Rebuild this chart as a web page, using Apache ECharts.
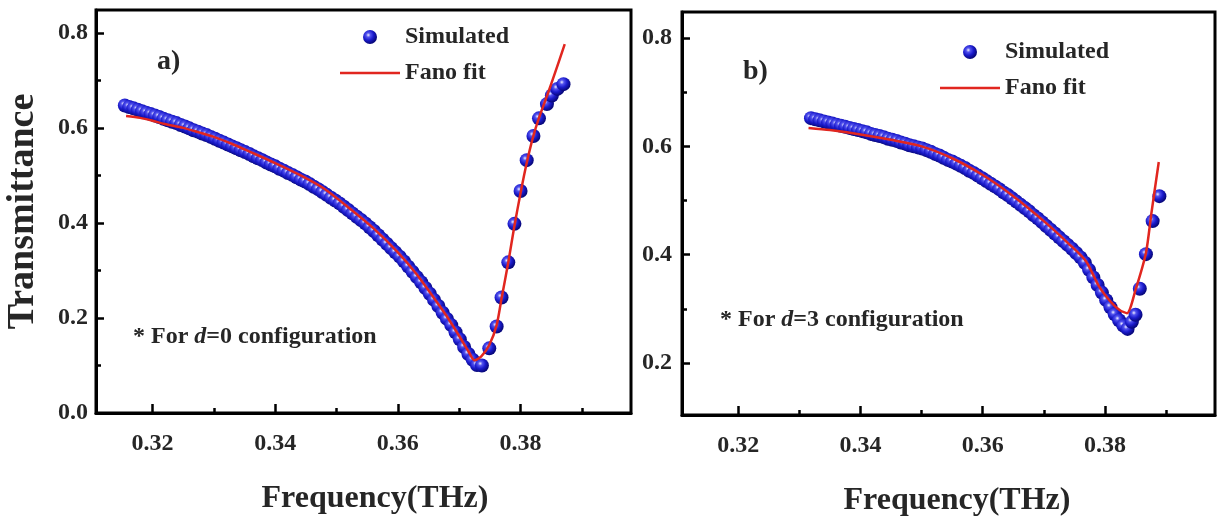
<!DOCTYPE html>
<html>
<head>
<meta charset="utf-8">
<script src="https://cdn.jsdelivr.net/npm/echarts@6/dist/echarts.min.js"></script>
<style>
  html, body { margin: 0; padding: 0; background: #fff; }
  #chart { width: 1229px; height: 525px; }
</style>
</head>
<body>
<div id="chart"></div>
<script>
// ---- Panel a): d = 0 configuration ----
const simFreqA = [0.3155,0.3162,0.3169,0.3176,0.3183,0.3190,0.3197,0.3204,0.3211,0.3218,0.3225,0.3232,0.3239,0.3246,
  0.3253,0.3260,0.3267,0.3274,0.3281,0.3288,0.3295,0.3302,0.3309,0.3316,0.3323,0.3330,0.3337,0.3344,
  0.3351,0.3358,0.3365,0.3372,0.3379,0.3386,0.3393,0.3400,0.3407,0.3414,0.3421,0.3428,0.3435,0.3442,0.3449,
  0.3456,0.3463,0.3470,0.3477,0.3484,0.3491,0.3498,0.3505,0.3512,0.3519,0.3526,0.3533,0.3540,0.3547,
  0.3554,0.3561,0.3568,0.3575,0.3582,0.3589,0.3596,0.3603,0.3610,0.3617,0.3624,0.3631,0.3638,0.3645,
  0.3652,0.3659,0.3666,0.3673,0.3680,0.3687,0.3694,0.3701,0.3708,0.3715,0.3722,0.3729,
  0.3737,0.3749,0.3761,0.3769,0.3780,0.3790,0.3800,0.3810,0.3821,0.3830,0.3843,0.3851,0.3860,0.3870];
const simTransA = [0.647,0.644,0.641,0.638,0.635,0.632,0.629,0.626,0.623,0.619,0.616,0.613,0.610,0.606,
  0.603,0.599,0.595,0.592,0.588,0.585,0.581,0.577,0.573,0.569,0.565,0.561,0.557,0.553,
  0.549,0.545,0.540,0.536,0.532,0.527,0.523,0.519,0.514,0.510,0.505,0.501,0.496,0.491,0.487,
  0.482,0.476,0.471,0.465,0.459,0.453,0.447,0.441,0.434,0.427,0.420,0.413,0.406,0.399,
  0.391,0.383,0.374,0.365,0.356,0.347,0.338,0.329,0.319,0.308,0.297,0.286,0.275,0.263,
  0.251,0.238,0.225,0.211,0.198,0.185,0.170,0.155,0.139,0.124,0.112,0.101,
  0.100,0.136,0.182,0.243,0.317,0.398,0.467,0.532,0.583,0.620,0.650,0.668,0.682,0.692];
const fitFreqA = [0.3157,0.318,0.320,0.322,0.325,0.3277,0.330,0.333,0.336,0.340,0.344,0.348,0.352,0.356,0.360,
  0.363,0.366,0.368,0.370,0.3715,0.3725,0.3736,0.3749,0.3761,0.3769,0.3780,0.3790,0.3800,0.3810,0.3820,
  0.3830,0.3843,0.3856,0.3872];
const fitTransA = [0.625,0.621,0.615,0.608,0.600,0.590,0.581,0.566,0.549,0.526,0.501,0.472,0.432,0.389,0.338,
  0.293,0.240,0.203,0.162,0.130,0.111,0.119,0.143,0.185,0.241,0.317,0.394,0.463,0.526,0.579,
  0.621,0.667,0.715,0.776];

// ---- Panel b): d = 3 configuration ----
const simFreqB = [0.3319,0.3326,0.3333,0.3340,0.3347,0.3354,0.3361,0.3368,0.3375,0.3382,0.3389,0.3396,
  0.3403,0.3410,0.3417,0.3424,0.3431,0.3438,0.3445,0.3452,0.3459,0.3466,0.3473,0.3480,0.3487,0.3494,
  0.3501,0.3508,0.3515,0.3522,0.3529,0.3536,0.3543,0.3550,0.3557,0.3564,0.3571,0.3578,0.3585,0.3592,
  0.3599,0.3606,0.3613,0.3620,0.3627,0.3634,0.3641,0.3648,0.3655,0.3662,0.3669,0.3676,0.3683,0.3690,0.3697,
  0.3704,0.3711,0.3718,0.3725,0.3732,0.3739,0.3746,0.3753,0.3760,
  0.3767,0.3774,0.3781,0.3788,0.3795,0.3802,0.3809,0.3816,0.3823,0.3830,0.3837,
  0.3844,0.3850,0.3857,0.3867,0.3878,0.3889];
const simTransB = [0.652,0.650,0.648,0.646,0.644,0.642,0.640,0.638,0.636,0.634,0.632,0.630,
  0.628,0.626,0.623,0.621,0.619,0.617,0.614,0.612,0.610,0.607,0.605,0.602,0.600,0.598,
  0.596,0.593,0.590,0.586,0.583,0.579,0.575,0.572,0.568,0.564,0.560,0.555,0.551,0.546,
  0.541,0.536,0.531,0.526,0.521,0.515,0.510,0.504,0.498,0.492,0.486,0.480,0.473,0.467,0.460,
  0.453,0.446,0.439,0.432,0.425,0.418,0.411,0.403,0.395,
  0.385,0.372,0.358,0.344,0.330,0.316,0.303,0.290,0.279,0.269,0.263,
  0.276,0.289,0.337,0.401,0.462,0.508];
const fitFreqB = [0.3315,0.335,0.340,0.345,0.350,0.355,0.360,0.365,0.370,0.374,0.3769,0.3790,0.3811,0.3825,
  0.3836,0.3850,0.3867,0.3876,0.3888];
const fitTransB = [0.634,0.630,0.622,0.612,0.600,0.578,0.547,0.508,0.462,0.421,0.388,0.342,0.311,0.297,
  0.292,0.335,0.403,0.477,0.571];

// ---- Axes ----
const xRange = [0.3108, 0.398];
const xMajorTicks = [0.32, 0.34, 0.36, 0.38];
const xMinorTicks = [0.33, 0.35, 0.37, 0.39];
const yRangeA = [0, 0.848];
const yMajorTicksA = [0.0, 0.2, 0.4, 0.6, 0.8];
const yMinorTicksA = [0.1, 0.3, 0.5, 0.7];
const yRangeB = [0.104, 0.848];
const yMajorTicksB = [0.2, 0.4, 0.6, 0.8];
const yMinorTicksB = [0.3, 0.5, 0.7];

const xTitle = 'Frequency(THz)';
const yTitle = 'Transmittance';
const seriesNames = ['Simulated', 'Fano fit'];
const panelTags = ['a)', 'b)'];
const noteText = ['{n|* For }{i|d}{n|=0 configuration}', '{n|* For }{i|d}{n|=3 configuration}'];

const FONT = '"Liberation Serif", "Times New Roman", serif';
const INK = '#262626';
const RED = '#e1261f';

const zip = (xs, ys) => xs.map((x, i) => [x, ys[i]]);

// shaded ball used for the simulated points
const sphere = {
  type: 'radial', x: 0.38, y: 0.36, r: 0.62,
  colorStops: [
    { offset: 0, color: '#eeeeff' },
    { offset: 0.25, color: '#5252ee' },
    { offset: 0.6, color: '#1b1bcc' },
    { offset: 1, color: '#08087c' }
  ]
};

function xMajor(gridIndex, shift) {
  return {
    type: 'value', gridIndex, min: xRange[0], max: xRange[1], position: 'bottom',
    name: xTitle, nameLocation: 'middle', nameGap: 70,
    nameTextStyle: { fontFamily: FONT, fontWeight: 'bold', fontSize: 32, color: INK, padding: [0, 0, 0, shift] },
    axisLine: { show: true, onZero: false, lineStyle: { color: '#000', width: 3 } },
    axisTick: { show: true, inside: true, length: 9, customValues: xMajorTicks, lineStyle: { color: '#000', width: 2.5 } },
    axisLabel: { show: true, customValues: xMajorTicks, margin: 19, formatter: v => v.toFixed(2),
      fontFamily: FONT, fontWeight: 'bold', fontSize: 24, color: INK },
    splitLine: { show: false }
  };
}
function xMinor(gridIndex) {
  return {
    type: 'value', gridIndex, min: xRange[0], max: xRange[1], position: 'bottom',
    axisLine: { show: false },
    axisTick: { show: true, inside: true, length: 5, customValues: xMinorTicks, lineStyle: { color: '#000', width: 2.5 } },
    axisLabel: { show: false },
    splitLine: { show: false }
  };
}
function yMajor(gridIndex, range, ticks, margin, withName) {
  const ax = {
    type: 'value', gridIndex, min: range[0], max: range[1], position: 'left',
    axisLine: { show: true, onZero: false, lineStyle: { color: '#000', width: 3 } },
    axisTick: { show: true, inside: true, length: 8, customValues: ticks, lineStyle: { color: '#000', width: 2.5 } },
    axisLabel: { show: true, customValues: ticks, margin, formatter: v => v.toFixed(1),
      fontFamily: FONT, fontWeight: 'bold', fontSize: 24, color: INK },
    splitLine: { show: false }
  };
  if (withName) {
    ax.name = yTitle;
    ax.nameLocation = 'middle';
    ax.nameGap = 54;
    ax.nameTextStyle = { fontFamily: FONT, fontWeight: 'bold', fontSize: 38, color: INK };
  }
  return ax;
}
function yMinor(gridIndex, range, ticks) {
  return {
    type: 'value', gridIndex, min: range[0], max: range[1], position: 'left',
    axisLine: { show: false },
    axisTick: { show: true, inside: true, length: 5, customValues: ticks, lineStyle: { color: '#000', width: 2.5 } },
    axisLabel: { show: false },
    splitLine: { show: false }
  };
}

function scatter(axisIndex, data) {
  return {
    name: seriesNames[0], type: 'scatter', xAxisIndex: axisIndex, yAxisIndex: axisIndex,
    data, symbol: 'circle', symbolSize: 14, z: 2,
    itemStyle: { color: sphere, opacity: 1 }
  };
}
function fit(axisIndex, data) {
  return {
    name: seriesNames[1], type: 'line', xAxisIndex: axisIndex, yAxisIndex: axisIndex,
    data, symbol: 'none', showSymbol: false, smooth: 0.25, z: 3,
    lineStyle: { color: RED, width: 2.5 }, itemStyle: { color: RED }
  };
}

function legend(left, top) {
  return {
    left, top, orient: 'vertical', padding: 0, itemGap: 10,
    itemWidth: 60, itemHeight: 14, selectedMode: false,
    data: [
      { name: seriesNames[0], icon: 'circle' },
      { name: seriesNames[1], icon: 'path://M0,0L60,0L60,2.6L0,2.6Z', itemStyle: { color: RED } }
    ],
    textStyle: { fontFamily: FONT, fontWeight: 'bold', fontSize: 24, lineHeight: 26, color: INK }
  };
}

function label(x, y, text, size) {
  return {
    type: 'text', x, y,
    style: { text, fontFamily: FONT, fontWeight: 'bold', fontSize: size, fill: INK, verticalAlign: 'middle' }
  };
}
function note(x, y, text) {
  return {
    type: 'text', x, y,
    style: {
      text, verticalAlign: 'middle', fill: INK,
      rich: {
        n: { fontFamily: FONT, fontWeight: 'bold', fontSize: 24, fill: INK, color: INK },
        i: { fontFamily: FONT, fontWeight: 'bold', fontStyle: 'italic', fontSize: 24, fill: INK, color: INK }
      }
    }
  };
}

const chart = echarts.init(document.getElementById('chart'), null, { renderer: 'canvas' });
chart.setOption({
  animation: false,
  backgroundColor: '#fff',
  grid: [
    { left: 96, top: 10, width: 535, height: 403, show: true, borderColor: '#000', borderWidth: 3, backgroundColor: 'transparent' },
    { left: 682, top: 12, width: 533, height: 403, show: true, borderColor: '#000', borderWidth: 3, backgroundColor: 'transparent' }
  ],
  xAxis: [xMajor(0, 23), xMinor(0), xMajor(1, 17), xMinor(1)],
  yAxis: [
    yMajor(0, yRangeA, yMajorTicksA, 8, true), yMinor(0, yRangeA, yMinorTicksA),
    yMajor(1, yRangeB, yMajorTicksB, 10, false), yMinor(1, yRangeB, yMinorTicksB)
  ],
  legend: [legend(340, 24), legend(940, 39)],
  series: [
    scatter(0, zip(simFreqA, simTransA)),
    fit(0, zip(fitFreqA, fitTransA)),
    scatter(2, zip(simFreqB, simTransB)),
    fit(2, zip(fitFreqB, fitTransB))
  ],
  graphic: [
    label(157, 62, panelTags[0], 28),
    label(743, 72, panelTags[1], 28),
    note(133, 337, noteText[0]),
    note(720, 320, noteText[1])
  ]
});
</script>
</body>
</html>
